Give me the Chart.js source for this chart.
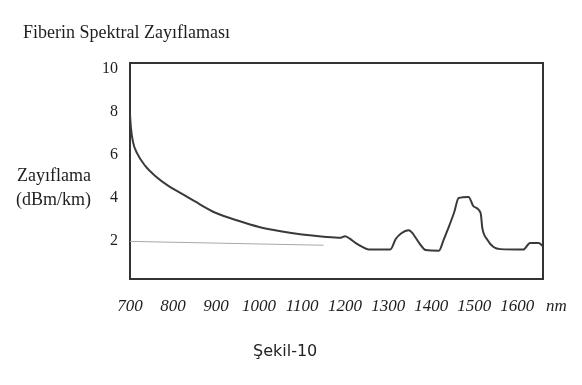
<!DOCTYPE html>
<html>
<head>
<meta charset="utf-8">
<script src="https://cdn.jsdelivr.net/npm/chart.js@4/dist/chart.umd.min.js"></script>
<style>
html,body{margin:0;padding:0;background:#fff;}
#wrap{width:582px;height:385px;position:relative;}
</style>
</head>
<body>
<div id="wrap"><canvas id="c" width="582" height="385"></canvas></div>
<script>
// Wavelength (nm) and attenuation (dB/km)
const wavelengths = [700, 702, 707, 716, 735, 760, 790, 820, 850, 900, 950, 1000, 1050, 1100, 1150, 1190, 1200, 1210, 1225, 1240, 1255, 1305, 1318, 1330, 1348, 1355, 1376, 1387, 1418, 1429, 1438, 1453, 1464, 1487, 1499, 1515, 1519, 1531, 1545, 1561, 1614, 1630, 1650, 1660];
const attenuation = [7.9, 7.3, 6.6, 6.1, 5.5, 5.0, 4.55, 4.2, 3.85, 3.3, 2.95, 2.65, 2.45, 2.3, 2.2, 2.15, 2.22, 2.12, 1.9, 1.72, 1.6, 1.6, 2.1, 2.35, 2.5, 2.4, 1.8, 1.58, 1.55, 2.05, 2.5, 3.3, 4.0, 4.05, 3.6, 3.3, 2.6, 2.05, 1.72, 1.62, 1.6, 1.9, 1.9, 1.75];
const refLineX = [700, 1150];
const refLineY = [1.98, 1.8];
const xTicks = [700, 800, 900, 1000, 1100, 1200, 1300, 1400, 1500, 1600];
const yTicks = [2, 4, 6, 8, 10];
const titleText = "Fiberin Spektral Zayıflaması";
const yLabel1 = "Zayıflama";
const yLabel2 = "(dBm/km)";
const xUnit = "nm";
const caption = "Şekil-10";

const mainData = wavelengths.map((w, i) => ({x: w, y: attenuation[i]}));
const refData = refLineX.map((w, i) => ({x: w, y: refLineY[i]}));

const textPlugin = {
  id: 'texts',
  afterDraw(chart) {
    const ctx = chart.ctx;
    ctx.save();
    ctx.fillStyle = '#1e1e1e';
    ctx.textBaseline = 'alphabetic';
    ctx.textAlign = 'left';
    ctx.font = '18px "Liberation Serif", "Times New Roman", serif';
    ctx.fillText(titleText, 23, 38);
    ctx.textBaseline = 'middle';
    ctx.fillText(yLabel1, 17, 176);
    ctx.fillText(yLabel2, 16, 200);
    ctx.font = 'italic 17px "Liberation Serif", serif';
    ctx.fillText(xUnit, 546, 307);
    ctx.font = '16px "DejaVu Sans", sans-serif';
    ctx.fillStyle = '#222';
    ctx.fillText(caption, 253, 352);
    ctx.restore();
  }
};

new Chart(document.getElementById('c'), {
  type: 'line',
  data: {
    datasets: [
      {
        data: mainData,
        borderColor: '#3a3a3a',
        borderWidth: 2,
        pointRadius: 0,
        cubicInterpolationMode: 'monotone',
        fill: false
      },
      {
        data: refData,
        borderColor: '#a8a8a8',
        borderWidth: 1,
        pointRadius: 0,
        tension: 0,
        fill: false
      }
    ]
  },
  options: {
    responsive: false,
    animation: false,
    layout: {padding: {left: 0, top: 63, right: 39, bottom: 0}},
    plugins: {legend: {display: false}, tooltip: {enabled: false}, title: {display: false}},
    scales: {
      x: {
        type: 'linear',
        min: 700,
        max: 1660,
        afterBuildTicks: s => { s.ticks = xTicks.map(v => ({value: v})); },
        afterFit: s => { s.height = 106; },
        grid: {display: false, drawTicks: false},
        border: {display: true, color: '#333', width: 2},
        ticks: {
          color: '#1e1e1e',
          padding: 17,
          maxRotation: 0,
          autoSkip: false,
          font: {family: '"Liberation Serif", serif', size: 17, style: 'italic'},
          callback: v => String(v)
        }
      },
      x2: {
        type: 'linear', position: 'top', min: 700, max: 1660,
        grid: {display: false, drawTicks: false},
        border: {display: true, color: '#333', width: 2},
        ticks: {display: false},
        afterFit: s => { s.height = 0; }
      },
      y: {
        min: 0.23,
        max: 10.28,
        afterBuildTicks: s => { s.ticks = yTicks.map(v => ({value: v})); },
        afterFit: s => { s.width = 130; },
        grid: {display: false, drawTicks: false},
        border: {display: true, color: '#333', width: 2},
        ticks: {
          color: '#1e1e1e',
          padding: 12,
          font: {family: '"Liberation Serif", serif', size: 16},
          callback: v => String(v)
        }
      },
      y2: {
        position: 'right', min: 0.23, max: 10.28,
        grid: {display: false, drawTicks: false},
        border: {display: true, color: '#333', width: 2},
        ticks: {display: false},
        afterFit: s => { s.width = 0; }
      }
    }
  },
  plugins: [textPlugin]
});
</script>
</body>
</html>
